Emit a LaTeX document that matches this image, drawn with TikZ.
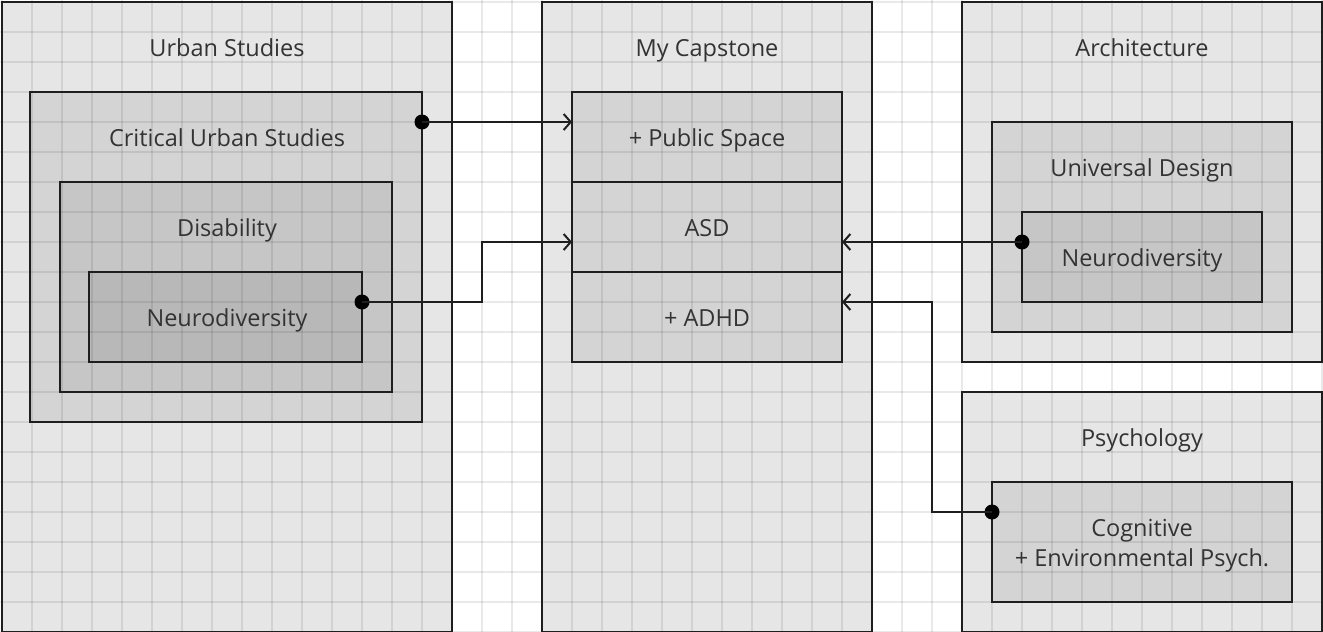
\documentclass[tikz,border=0pt]{standalone}
\usepackage{fontspec}
\setmainfont{Open Sans}
\usetikzlibrary{arrows.meta,calc}
\definecolor{lvA}{HTML}{E6E6E6}
\definecolor{lvB}{HTML}{D4D4D4}
\definecolor{lvC}{HTML}{C6C6C6}
\definecolor{lvD}{HTML}{B8B8B8}
\definecolor{ink}{HTML}{1E1E1E}
\definecolor{txtc}{HTML}{333333}
\begin{document}
\begin{tikzpicture}[x=1pt,y=-1pt,
  area/.style={inner sep=0pt,outer sep=0pt,draw=none},
  rim/.style={draw=ink,line width=2pt},
  gridl/.style={draw=black,opacity=0.085,line width=2pt},
  lbl/.style={text=txtc,font=\fontsize{23.5}{30}\selectfont,align=center,inner sep=0pt,anchor=base},
  conn/.style={draw=ink,line width=2pt,-{Straight Barb[length=7pt,width=16pt,line width=2pt]}},
  dot/.style={circle,fill=black,inner sep=0pt,minimum size=15pt}]
\useasboundingbox (0,0) rectangle (1323,632);
\fill[white] (0,0) rectangle (1323,632);
% boxes (fills)
\node[area,fill=lvA,minimum width=450pt,minimum height=630pt] (us) at (227,317) {};
\node[area,fill=lvB,minimum width=392pt,minimum height=330pt] (cus) at (226,257) {};
\node[area,fill=lvC,minimum width=332pt,minimum height=210pt] (dis) at (226,287) {};
\node[area,fill=lvD,minimum width=273pt,minimum height=90pt] (neu) at (225.5,317) {};
\node[area,fill=lvA,minimum width=330pt,minimum height=630pt] (cap) at (707,317) {};
\node[area,fill=lvB,minimum width=270pt,minimum height=90pt] (pub) at (707,137) {};
\node[area,fill=lvB,minimum width=270pt,minimum height=90pt] (asd) at (707,227) {};
\node[area,fill=lvB,minimum width=270pt,minimum height=90pt] (adhd) at (707,317) {};
\node[area,fill=lvA,minimum width=360pt,minimum height=360pt] (arc) at (1142,182) {};
\node[area,fill=lvB,minimum width=300pt,minimum height=210pt] (ud) at (1142,227) {};
\node[area,fill=lvC,minimum width=240pt,minimum height=90pt] (rneu) at (1142,257) {};
\node[area,fill=lvA,minimum width=360pt,minimum height=240pt] (psy) at (1142,512) {};
\node[area,fill=lvB,minimum width=300pt,minimum height=120pt] (cog) at (1142,542) {};
% grid overlay
\foreach \i in {0,...,44} \draw[gridl] (2+30*\i,0) -- (2+30*\i,632);
\foreach \j in {0,...,21} \draw[gridl] (0,2+30*\j) -- (1323,2+30*\j);
% borders
\foreach \b in {us,cus,dis,neu,cap,pub,asd,adhd,arc,ud,rneu,psy,cog}
  \draw[rim] (\b.north west) rectangle (\b.south east);
% labels (baseline = centre + 9)
\node[lbl] (tus) at (227,56) {Urban Studies};
\node[lbl] (tcus) at (227,146) {Critical Urban Studies};
\node[lbl] (tdis) at (227,236) {Disability};
\node[lbl] (tneu) at (227,326) {Neurodiversity};
\node[lbl] (tcap) at (707,56) {My Capstone};
\node[lbl] (tpub) at ($(pub)+(0,9)$) {+ Public Space};
\node[lbl] (tasd) at ($(asd)+(0,9)$) {ASD};
\node[lbl] (tadhd) at ($(adhd)+(0,9)$) {+ ADHD};
\node[lbl] (tarc) at (1142,56) {Architecture};
\node[lbl] (tud) at (1142,176) {Universal Design};
\node[lbl] (trneu) at ($(rneu)+(0,9)$) {Neurodiversity};
\node[lbl] (tpsy) at (1142,446) {Psychology};
\node[lbl] (tcog) at ($(cog)+(0,24)$) {Cognitive\\+ Environmental Psych.};
% connector ends
\coordinate (a1) at ($(pub.west)+(0,-15)$);
\coordinate (a2) at ($(asd.west)+(0,15)$);
\coordinate (a3) at ($(asd.east)+(0,15)$);
\coordinate (a4) at ($(adhd.east)+(0,-15)$);
\node[dot] (d1) at (cus.east |- a1) {};
\node[dot] (d2) at ($(neu.east)+(0,-15)$) {};
\node[dot] (d3) at (rneu.west |- a3) {};
\node[dot] (d4) at ($(cog.west)+(0,-30)$) {};
\draw[conn] (d1.center) -- (a1);
\draw[conn] (d2.center) -- ++(120,0) |- (a2);
\draw[conn] (d3.center) -- (a3);
\draw[conn] (d4.center) -- ++(-60,0) |- (a4);
\end{tikzpicture}
\end{document}
